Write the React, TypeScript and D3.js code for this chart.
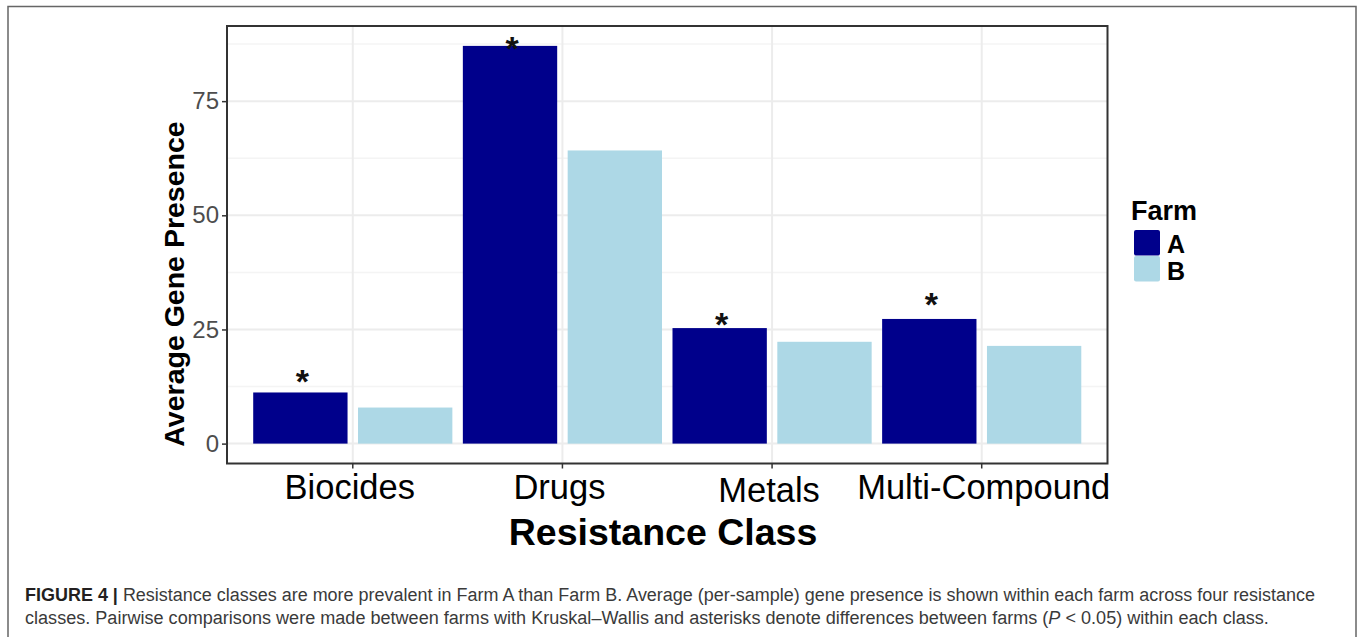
import React, { useEffect, useRef } from 'react'
import * as d3 from 'd3'

const categories = ['Biocides', 'Drugs', 'Metals', 'Multi-Compound']
const farms = ['A', 'B']
const farmA = [11.2, 87.1, 25.3, 27.3]
const farmB = [7.9, 64.2, 22.3, 21.4]
// heights where the significance asterisks sit
const starValues = [15.5, 88.3, 27.9, 32.2]
const yTicks = [0, 25, 50, 75]
const yMinorTicks = [12.5, 37.5, 62.5, 87.5]
const captionLine1 =
  ' Resistance classes are more prevalent in Farm A than Farm B. Average (per-sample) gene presence is shown within each farm across four resistance'
const captionLine2a =
  'classes. Pairwise comparisons were made between farms with Kruskal\u2013Wallis and asterisks denote differences between farms ('
const captionLine2b = ' < 0.05) within each class.'

const colors: Record<string, string> = { A: '#00008b', B: '#add8e6' }

export default function App() {
  const ref = useRef<SVGSVGElement>(null)

  useEffect(() => {
    const svg = d3.select(ref.current)
    svg.selectAll('*').remove()

    const font = 'Liberation Sans, Arial, sans-serif'
    const left = 227
    const right = 1107.5
    const top = 26
    const bottom = 463.5

    // outer figure frame
    svg
      .append('path')
      .attr('d', 'M8,637 V6.5 H1356 V637')
      .attr('fill', 'none')
      .attr('stroke', '#666')
      .attr('stroke-width', 1.5)

    const ymax = d3.max(farmA.concat(farmB)) as number
    const pad = ymax * 0.05
    const y = d3.scaleLinear().domain([-pad, ymax + pad]).range([bottom, top])

    const x = d3
      .scaleBand()
      .domain(categories)
      .range([left, right])
      .paddingInner(0)
      .paddingOuter(0.1)
    const xSub = d3
      .scaleBand()
      .domain(farms)
      .range([0, x.bandwidth()])
      .paddingInner(0.1)
      .paddingOuter(0.05)

    const g = svg.append('g')

    // grid
    g.selectAll('.minor')
      .data(yMinorTicks)
      .enter()
      .append('line')
      .attr('x1', left)
      .attr('x2', right)
      .attr('y1', d => y(d))
      .attr('y2', d => y(d))
      .attr('stroke', '#f4f4f4')
      .attr('stroke-width', 1.5)
    g.selectAll('.major')
      .data(yTicks)
      .enter()
      .append('line')
      .attr('x1', left)
      .attr('x2', right)
      .attr('y1', d => y(d))
      .attr('y2', d => y(d))
      .attr('stroke', '#ececec')
      .attr('stroke-width', 2)
    g.selectAll('.vgrid')
      .data(categories)
      .enter()
      .append('line')
      .attr('x1', d => (x(d) as number) + x.bandwidth() / 2)
      .attr('x2', d => (x(d) as number) + x.bandwidth() / 2)
      .attr('y1', top)
      .attr('y2', bottom)
      .attr('stroke', '#ececec')
      .attr('stroke-width', 2)

    // bars
    const rows = categories.flatMap((c, i) => [
      { cat: c, farm: 'A', value: farmA[i] },
      { cat: c, farm: 'B', value: farmB[i] }
    ])
    g.selectAll('.bar')
      .data(rows)
      .enter()
      .append('rect')
      .attr('x', d => (x(d.cat) as number) + (xSub(d.farm) as number))
      .attr('y', d => y(d.value))
      .attr('width', xSub.bandwidth())
      .attr('height', d => y(0) - y(d.value))
      .attr('fill', d => colors[d.farm])

    // asterisks
    g.selectAll('.star')
      .data(categories)
      .enter()
      .append('text')
      .attr('x', d => (x(d) as number) + (xSub('A') as number) + xSub.bandwidth() / 2 + 2)
      .attr('y', (d, i) => y(starValues[i]))
      .attr('dy', '0.58em')
      .attr('text-anchor', 'middle')
      .attr('font-family', font)
      .attr('font-weight', 'bold')
      .attr('font-size', 34)
      .attr('fill', '#111')
      .text('*')

    // panel border
    g.append('rect')
      .attr('x', left)
      .attr('y', top)
      .attr('width', right - left)
      .attr('height', bottom - top)
      .attr('fill', 'none')
      .attr('stroke', '#333')
      .attr('stroke-width', 2)

    // y axis
    const yAxis = g
      .append('g')
      .attr('transform', `translate(${left}, 0)`)
      .call(d3.axisLeft(y).tickValues(yTicks).tickSize(5).tickPadding(3))
    yAxis.select('.domain').remove()
    yAxis.selectAll('line').attr('stroke', '#333').attr('stroke-width', 1.5)
    yAxis
      .selectAll('text')
      .attr('font-family', font)
      .attr('font-size', 24)
      .attr('fill', '#4d4d4d')

    // x axis
    const xAxis = g
      .append('g')
      .attr('transform', `translate(0, ${bottom})`)
      .call(d3.axisBottom(x).tickSize(5).tickPadding(4))
    xAxis.select('.domain').remove()
    xAxis.selectAll('line').attr('stroke', '#333').attr('stroke-width', 1.5)
    xAxis
      .selectAll('text')
      .attr('font-family', font)
      .attr('font-size', 34.5)
      .attr('fill', '#000')
      .attr('dx', (d: any) => (d === 'Multi-Compound' ? 2 : -3))
      .attr('dy', (d: any) => (d === 'Metals' ? '0.85em' : '0.76em'))

    // axis titles
    svg
      .append('text')
      .attr('x', 663)
      .attr('y', 545)
      .attr('text-anchor', 'middle')
      .attr('font-family', font)
      .attr('font-weight', 'bold')
      .attr('font-size', 37.5)
      .text('Resistance Class')
    svg
      .append('text')
      .attr('transform', 'translate(184, 284) rotate(-90)')
      .attr('text-anchor', 'middle')
      .attr('font-family', font)
      .attr('font-weight', 'bold')
      .attr('font-size', 28.5)
      .text('Average Gene Presence')

    // legend
    const leg = svg.append('g').attr('transform', 'translate(1131, 0)')
    leg
      .append('text')
      .attr('x', 0)
      .attr('y', 220)
      .attr('font-family', font)
      .attr('font-weight', 'bold')
      .attr('font-size', 27)
      .text('Farm')
    farms.forEach((f, i) => {
      leg
        .append('rect')
        .attr('x', 3)
        .attr('y', 230 + i * 26)
        .attr('width', 26)
        .attr('height', 25.5)
        .attr('rx', 2)
        .attr('fill', colors[f])
      leg
        .append('text')
        .attr('x', 36)
        .attr('y', 253 + i * 27)
        .attr('font-family', font)
        .attr('font-weight', 'bold')
        .attr('font-size', 25)
        .text(f)
    })

    // caption: two lines, squeezed horizontally to the reference width
    const fitLine = (yPos: number, targetRight: number) => {
      const t = svg
        .append('text')
        .attr('x', 0)
        .attr('y', 0)
        .attr('font-family', font)
        .attr('font-size', 19)
        .attr('fill', '#3a3a3a')
      return {
        t,
        fit: () => {
          const w = (t.node() as SVGTextElement).getComputedTextLength()
          const sx = (targetRight - 25) / w
          t.attr('transform', `translate(25, ${yPos}) scale(${sx}, 1)`)
        }
      }
    }
    const l1 = fitLine(601, 1316)
    l1.t.append('tspan').attr('font-weight', 'bold').attr('fill', '#231f20').text('FIGURE 4 |')
    l1.t.append('tspan').text(captionLine1)
    l1.fit()
    const l2 = fitLine(624, 1270)
    l2.t.append('tspan').text(captionLine2a)
    l2.t.append('tspan').attr('font-style', 'italic').text('P')
    l2.t.append('tspan').text(captionLine2b)
    l2.fit()
  }, [])

  return (
    <svg
      ref={ref}
      width={1360}
      height={637}
      style={{ position: 'absolute', left: 0, top: 0, background: '#fff' }}
    />
  )
}
